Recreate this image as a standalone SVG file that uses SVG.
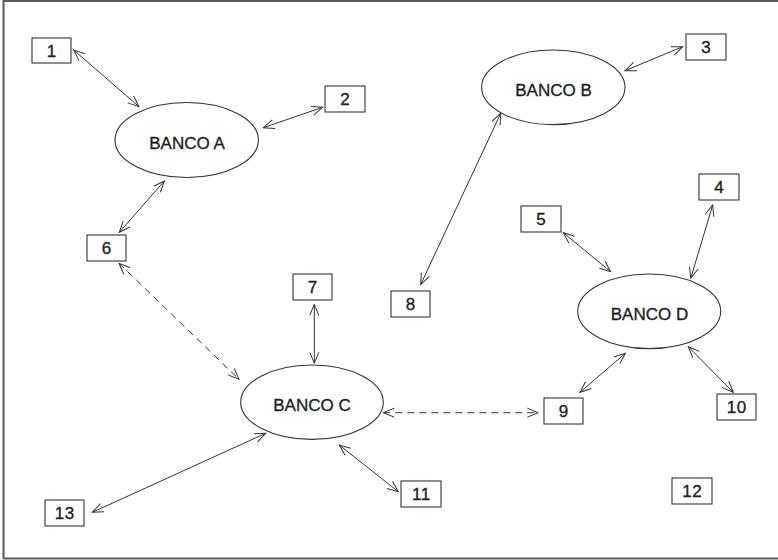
<svg xmlns="http://www.w3.org/2000/svg" width="778" height="560" viewBox="0 0 778 560">
<style>
.box{fill:#fff;stroke:#333;stroke-width:1.1}
.ell{fill:#fff;stroke:#333;stroke-width:1.1}
.num{font-family:"Liberation Sans",Arial,sans-serif;font-size:17px;fill:#1e1e1e;stroke:#1e1e1e;stroke-width:0.35;text-anchor:middle;letter-spacing:0.5px}
.lbl{font-family:"Liberation Sans",Arial,sans-serif;font-size:17px;fill:#1e1e1e;stroke:#1e1e1e;stroke-width:0.35;text-anchor:middle}
.con{fill:none;stroke:#333;stroke-width:1;marker-start:url(#ah);marker-end:url(#ah)}
.dash{stroke-dasharray:7 5}
.frame{fill:none;stroke:#5a5a5a;stroke-width:2}
</style>
<defs>
<marker id="ah" viewBox="-12 -6 13 12" markerWidth="13" markerHeight="12" refX="0" refY="0" markerUnits="userSpaceOnUse" orient="auto-start-reverse">
<path d="M-11,-4.5 L0,0 L-11,4.5" fill="none" stroke="#333" stroke-width="1"/>
</marker>
</defs>
<rect width="778" height="560" fill="#fff"/>
<path class="frame" d="M3.5,559 V1 H778 M3.5,558.5 H778"/>

<g id="connectors">
<line class="con" x1="73.7" y1="50" x2="139" y2="106.7"/>
<line class="con" x1="322.7" y1="107.3" x2="263.3" y2="127.7"/>
<line class="con" x1="119.3" y1="232.3" x2="164.3" y2="181"/>
<line class="con dash" x1="119" y1="263.3" x2="239" y2="379.3"/>
<line class="con" x1="682.7" y1="46.7" x2="625" y2="70.7"/>
<line class="con" x1="500.7" y1="113.3" x2="420.7" y2="284.5"/>
<line class="con" x1="563.3" y1="232.7" x2="610.7" y2="271.7"/>
<line class="con" x1="712.7" y1="205" x2="690.7" y2="278.3"/>
<line class="con" x1="625.3" y1="353.3" x2="580" y2="392.3"/>
<line class="con" x1="688.3" y1="346.7" x2="733.3" y2="392.3"/>
<line class="con dash" x1="383.3" y1="412.7" x2="538.3" y2="412.7"/>
<line class="con" x1="314.3" y1="304.3" x2="314.3" y2="363.3"/>
<line class="con" x1="92.3" y1="512.3" x2="265.7" y2="433.3"/>
<line class="con" x1="339.3" y1="445" x2="398.3" y2="491.7"/>
</g>

<g id="bancoA"><ellipse class="ell" cx="186.7" cy="140" rx="71.7" ry="37.5"/><text class="lbl" x="187" y="149">BANCO A</text></g>
<g id="bancoB"><ellipse class="ell" cx="553.3" cy="87.3" rx="71.7" ry="37.3"/><text class="lbl" x="553.5" y="96">BANCO B</text></g>
<g id="bancoC"><ellipse class="ell" cx="312" cy="402.2" rx="71.3" ry="37.2"/><text class="lbl" x="312" y="410.7">BANCO C</text></g>
<g id="bancoD"><ellipse class="ell" cx="649.2" cy="311.3" rx="71.5" ry="37.3"/><text class="lbl" x="649.5" y="320">BANCO D</text></g>

<g id="n1"><rect class="box" x="32" y="38" width="39" height="25"/><text class="num" x="51.8" y="56.5">1</text></g>
<g id="n2"><rect class="box" x="325" y="86" width="40" height="26"/><text class="num" x="345.3" y="105">2</text></g>
<g id="n3"><rect class="box" x="686" y="34" width="40" height="26"/><text class="num" x="706.3" y="53">3</text></g>
<g id="n4"><rect class="box" x="699" y="174" width="40" height="26"/><text class="num" x="719.3" y="193">4</text></g>
<g id="n5"><rect class="box" x="521" y="206" width="40" height="26"/><text class="num" x="541.3" y="225">5</text></g>
<g id="n6"><rect class="box" x="87" y="235" width="39" height="26"/><text class="num" x="106.8" y="254">6</text></g>
<g id="n7"><rect class="box" x="293" y="274" width="39" height="26"/><text class="num" x="312.8" y="293">7</text></g>
<g id="n8"><rect class="box" x="391" y="291" width="39" height="26"/><text class="num" x="410.8" y="310">8</text></g>
<g id="n9"><rect class="box" x="544" y="398" width="39" height="26"/><text class="num" x="563.8" y="417">9</text></g>
<g id="n10"><rect class="box" x="717" y="394" width="39" height="26"/><text class="num" x="736.8" y="413">10</text></g>
<g id="n11"><rect class="box" x="401" y="481" width="40" height="26"/><text class="num" x="421.3" y="500">11</text></g>
<g id="n12"><rect class="box" x="672" y="478" width="40" height="26"/><text class="num" x="692.3" y="497">12</text></g>
<g id="n13"><rect class="box" x="45" y="500" width="39" height="26"/><text class="num" x="64.8" y="519">13</text></g>
</svg>
